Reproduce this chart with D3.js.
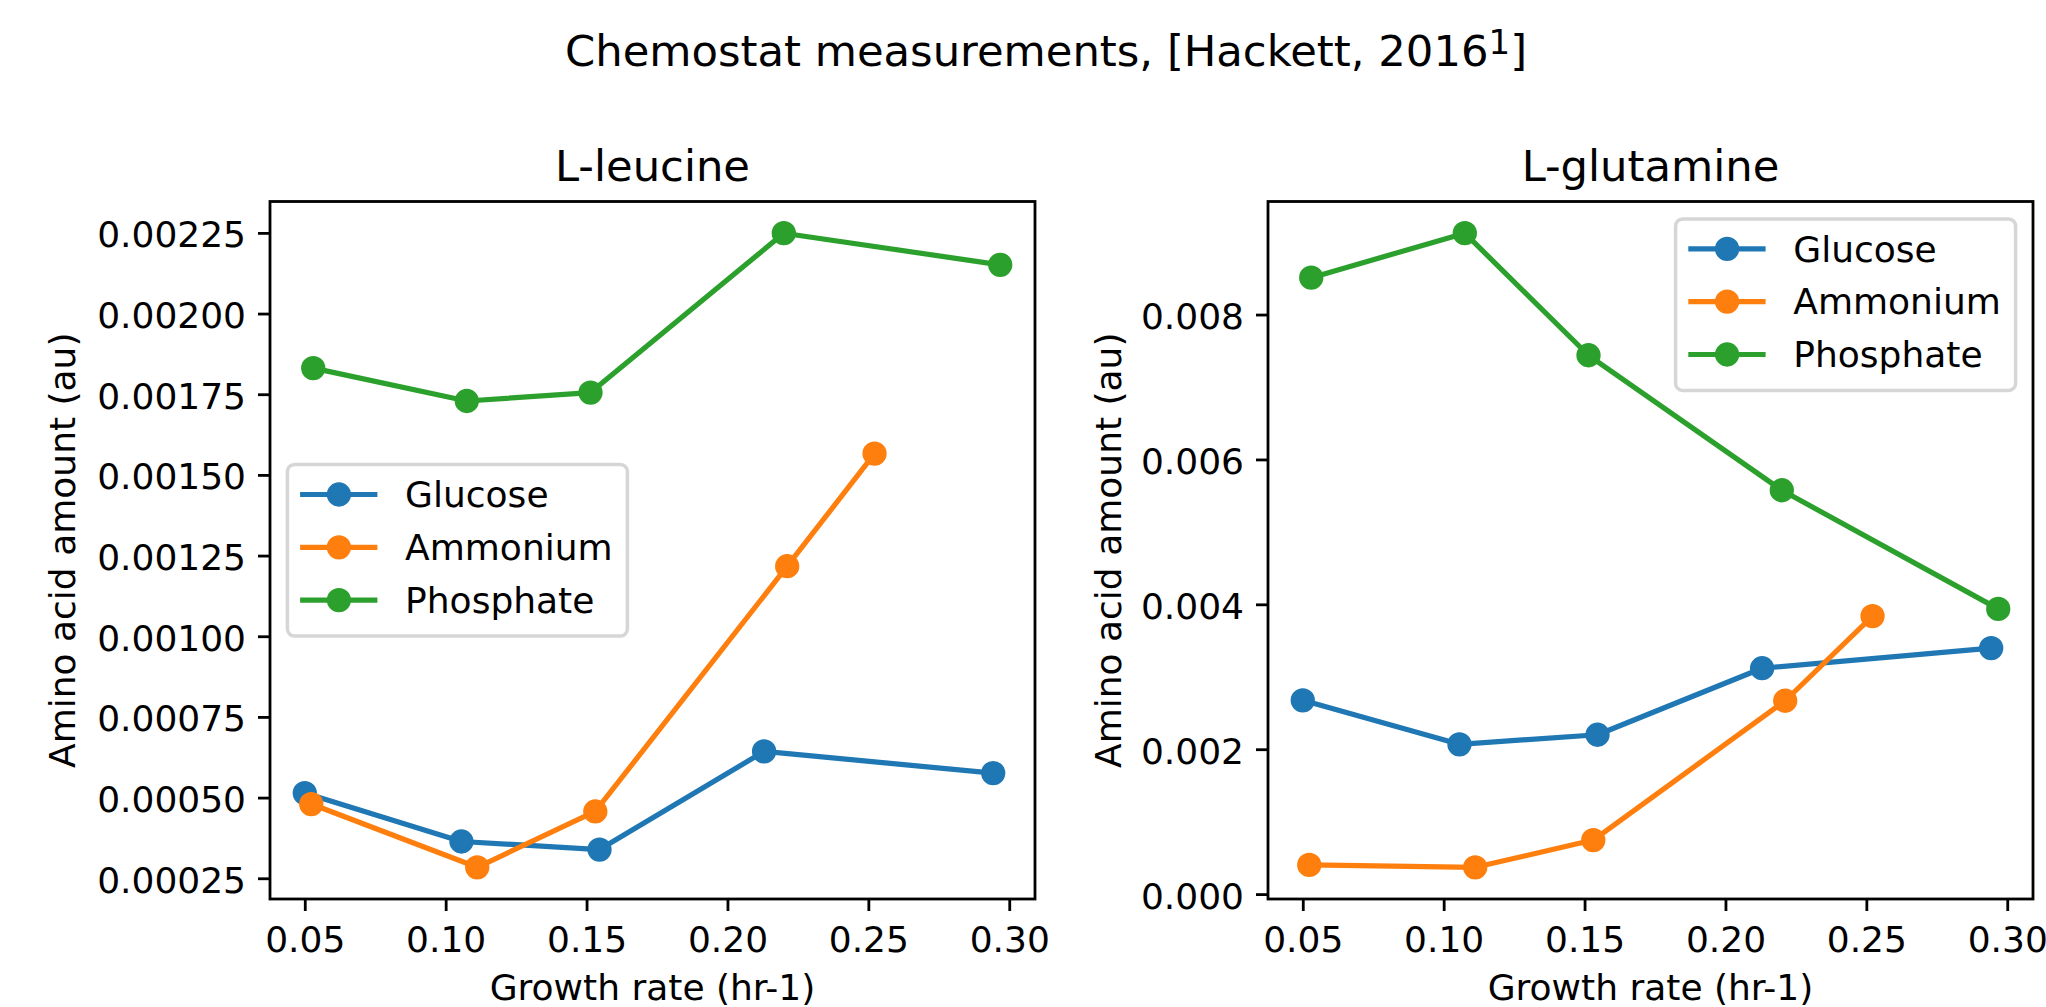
<!DOCTYPE html>
<html>
<head>
<meta charset="utf-8">
<script src="https://cdn.jsdelivr.net/npm/d3@7"></script>
<style>
    body { margin: 0; background: #ffffff; }
    svg { display: block; font-family: "DejaVu Sans", sans-serif; }
    .tick text { font-size: 36px; fill: #000000; font-family: "DejaVu Sans", sans-serif; }
    .tick line { stroke: #000000; stroke-width: 2.8; }
</style>
</head>
<body>
<svg id="chart"></svg>
<script>
// Data
const sources = ["Glucose", "Ammonium", "Phosphate"];
const colors = ["#1f77b4", "#ff7f0e", "#2ca02c"];

const growthGlucose = [0.0500, 0.1056, 0.1546, 0.2130, 0.2943];
const growthAmmonium = [0.0523, 0.1112, 0.1531, 0.2212, 0.2522];
const growthPhosphate = [0.0530, 0.1075, 0.1514, 0.2200, 0.2968];

const leucineGlucose = [0.000514, 0.000364, 0.000339, 0.000643, 0.000576];
const leucineAmmonium = [0.000480, 0.000284, 0.000457, 0.001217, 0.001566];
const leucinePhosphate = [0.001831, 0.001729, 0.001755, 0.002249, 0.002151];

const glutamineGlucose = [0.002675, 0.002068, 0.002200, 0.003118, 0.003396];
const glutamineAmmonium = [0.000403, 0.000370, 0.000746, 0.002669, 0.003838];
const glutaminePhosphate = [0.008509, 0.009123, 0.007438, 0.005575, 0.003937];

const xTicks = [0.05, 0.10, 0.15, 0.20, 0.25, 0.30];
const leucineTicks = [0.00025, 0.00050, 0.00075, 0.00100, 0.00125, 0.00150, 0.00175, 0.00200, 0.00225];
const glutamineTicks = [0.000, 0.002, 0.004, 0.006, 0.008];

const growth = [growthGlucose, growthAmmonium, growthPhosphate];

const params = {
    width: 2046,
    height: 1007,
    top: 201.5,
    bottom: 899,
    plotWidth: 765,
    font: 36,
    titleFont: 43.3
}

const panels = [
    {title: "L-leucine", left: 270, values: [leucineGlucose, leucineAmmonium, leucinePhosphate],
     ticks: leucineTicks, format: ".5f", legend: "centerLeft", ylabelX: 75},
    {title: "L-glutamine", left: 1268, values: [glutamineGlucose, glutamineAmmonium, glutaminePhosphate],
     ticks: glutamineTicks, format: ".3f", legend: "upperRight", ylabelX: 1121}
];

const svg = d3.select("#chart")
    .attr("width", params.width)
    .attr("height", params.height);

// matplotlib style 5% margins
function padded(arr) {
    let lo = d3.min(arr), hi = d3.max(arr);
    let m = (hi - lo) * 0.05;
    return [lo - m, hi + m];
}

// Suptitle
const suptitle = svg.append("text")
    .attr("x", 1046)
    .attr("y", 66)
    .attr("text-anchor", "middle")
    .style("font-size", params.titleFont + "px")
    .text("Chemostat measurements, [Hackett, 2016");
suptitle.append("tspan")
    .attr("dy", -12)
    .style("font-size", "34px")
    .text("1");
suptitle.append("tspan")
    .attr("dy", 12)
    .text("]");

panels.forEach(function(p) {
    let g = svg.append("g");
    let right = p.left + params.plotWidth;

    let x = d3.scaleLinear()
        .domain(padded(growth.flat()))
        .range([p.left, right]);

    let y = d3.scaleLinear()
        .domain(padded(p.values.flat()))
        .range([params.bottom, params.top]);

    let xAxis = g.append("g")
        .attr("transform", `translate(0, ${params.bottom})`)
        .call(d3.axisBottom(x).tickValues(xTicks).tickFormat(d3.format(".2f")).tickSize(12).tickPadding(15));
    xAxis.select(".domain").remove();

    let yAxis = g.append("g")
        .attr("transform", `translate(${p.left}, 0)`)
        .call(d3.axisLeft(y).tickValues(p.ticks).tickFormat(d3.format(p.format)).tickSize(12).tickPadding(12));
    yAxis.select(".domain").remove();
    yAxis.selectAll("text").attr("dy", "0.39em");

    // series
    let line = d3.line()
        .x((d) => x(d[0]))
        .y((d) => y(d[1]));

    sources.forEach(function(name, i) {
        let pts = growth[i].map((gx, j) => [gx, p.values[i][j]]);
        g.append("path")
            .datum(pts)
            .attr("d", line)
            .attr("fill", "none")
            .attr("stroke", colors[i])
            .attr("stroke-width", 5.2)
            .attr("stroke-linejoin", "round");
        g.selectAll(null)
            .data(pts)
            .join("circle")
            .attr("cx", (d) => x(d[0]))
            .attr("cy", (d) => y(d[1]))
            .attr("r", 10.4)
            .attr("fill", colors[i])
            .attr("stroke", colors[i])
            .attr("stroke-width", 3.5);
    });

    // spines
    g.append("rect")
        .attr("x", p.left)
        .attr("y", params.top)
        .attr("width", params.plotWidth)
        .attr("height", params.bottom - params.top)
        .attr("fill", "none")
        .attr("stroke", "#000000")
        .attr("stroke-width", 2.8);

    // titles and labels
    let cx = p.left + params.plotWidth / 2;
    g.append("text")
        .attr("x", cx)
        .attr("y", 180.7)
        .attr("text-anchor", "middle")
        .style("font-size", params.titleFont + "px")
        .text(p.title);

    g.append("text")
        .attr("x", cx)
        .attr("y", 1000)
        .attr("text-anchor", "middle")
        .style("font-size", params.font + "px")
        .text("Growth rate (hr-1)");

    let cy = (params.top + params.bottom) / 2;
    g.append("text")
        .attr("transform", `translate(${p.ylabelX}, ${cy}) rotate(-90)`)
        .attr("text-anchor", "middle")
        .style("font-size", params.font + "px")
        .text("Amino acid amount (au)");

    // legend
    let lw = 340, lh = 171.5;
    let lx = p.legend === "upperRight" ? right - 17.4 - lw : p.left + 17.4;
    let ly = p.legend === "upperRight" ? params.top + 17.4 : cy - lh / 2;
    let legend = g.append("g")
        .attr("transform", `translate(${lx}, ${ly})`);

    legend.append("rect")
        .attr("width", lw)
        .attr("height", lh)
        .attr("rx", 7)
        .attr("fill", "#ffffff")
        .attr("fill-opacity", 0.8)
        .attr("stroke", "#cccccc")
        .attr("stroke-opacity", 0.8)
        .attr("stroke-width", 3.5);

    sources.forEach(function(name, i) {
        let ry = 30 + i * 52.8;
        legend.append("line")
            .attr("x1", 12.7)
            .attr("x2", 90)
            .attr("y1", ry)
            .attr("y2", ry)
            .attr("stroke", colors[i])
            .attr("stroke-width", 5.2);
        legend.append("circle")
            .attr("cx", 51.5)
            .attr("cy", ry)
            .attr("r", 10.4)
            .attr("fill", colors[i])
            .attr("stroke", colors[i])
            .attr("stroke-width", 3.5);
        legend.append("text")
            .attr("x", 117.7)
            .attr("y", ry + 12.8)
            .style("font-size", params.font + "px")
            .text(name);
    });
});
</script>
</body>
</html>
